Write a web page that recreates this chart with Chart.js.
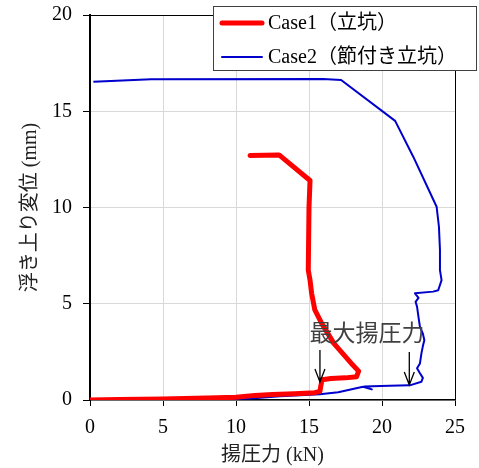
<!DOCTYPE html>
<html>
<head>
<meta charset="utf-8">
<script src="https://cdn.jsdelivr.net/npm/chart.js@4/dist/chart.umd.min.js"></script>
<style>
  html, body { margin: 0; padding: 0; background: #fff; }
  #chart { display: block; }
</style>
</head>
<body>
<canvas id="chart" width="479" height="468"></canvas>
<script>
// 揚圧力 (kN) vs 浮き上り変位 (mm)
const case1Label = "Case1（立坑）";
const case2Label = "Case2（節付き立坑）";

const case1Force = [0, 2, 5, 8, 10, 11.3, 12.5, 14, 15.4, 15.75, 15.8, 15.9, 16.5, 17.5, 18.26, 18.4, 17.9, 16.7, 15.87, 15.4, 15.18, 15.07, 14.95, 15.0, 15.07, 12.95, 10.96];
const case1Disp  = [0, 0.02, 0.05, 0.1, 0.14, 0.24, 0.28, 0.32, 0.38, 0.45, 0.7, 1.05, 1.12, 1.15, 1.21, 1.5, 1.9, 2.94, 3.98, 4.68, 5.54, 6.23, 6.75, 10.0, 11.4, 12.73, 12.7];

const case2Force = [0, 3, 6, 9, 11, 13, 15.75, 17, 18.7, 19.3, 18.8, 20.5, 21.9, 22.7, 22.8, 22.6, 22.4, 22.6, 22.7, 22.8, 22.9, 22.8, 22.6, 22.5, 22.4, 22.3, 22.5, 22.26, 23.5, 23.85, 24.08, 23.97, 23.97, 23.9, 23.74, 22.14, 20.9, 17.2, 15.96, 4.2, 0.23];
const case2Disp  = [-0.02, 0, 0.02, 0.04, 0.08, 0.2, 0.3, 0.4, 0.69, 0.55, 0.7, 0.74, 0.76, 0.95, 1.15, 1.39, 1.65, 1.9, 2.42, 2.8, 3.1, 3.45, 3.8, 4.3, 4.85, 5.1, 5.3, 5.54, 5.63, 5.7, 6.23, 6.75, 7.8, 9.0, 10.04, 12.64, 14.5, 16.62, 16.67, 16.66, 16.53];

// 最大揚圧力 markers
const peakLabel = "最大揚圧力";
const peakLabelAt = [18.97, 3.53];
const peakArrows = [
  { x: 15.75, from: 2.6, to: 0.94 },
  { x: 21.87, from: 2.5, to: 0.78 }
];

const xTitle = "揚圧力 (kN)";
const yTitle = "浮き上り変位 (mm)";

const toPoints = (xs, ys) => xs.map((x, i) => ({ x: x, y: ys[i] }));

const serif = "'Liberation Serif', 'Noto Sans CJK JP', serif";

// plot frame: top and right edges
const framePlugin = {
  id: "frame",
  beforeDatasetsDraw(chart) {
    const { ctx, chartArea: a } = chart;
    ctx.save();
    ctx.strokeStyle = "#000";
    ctx.lineWidth = 1;
    ctx.beginPath();
    ctx.moveTo(a.left, a.top + 0.5);
    ctx.lineTo(a.right + 0.5, a.top + 0.5);
    ctx.lineTo(a.right + 0.5, a.bottom);
    ctx.stroke();
    ctx.restore();
  }
};

// arrows and text for the peak uplift force
const peakPlugin = {
  id: "peak",
  afterDatasetsDraw(chart) {
    const { ctx, scales: { x, y } } = chart;
    ctx.save();
    ctx.strokeStyle = "#000";
    ctx.lineWidth = 1.3;
    peakArrows.forEach(a => {
      const px = x.getPixelForValue(a.x);
      const y0 = y.getPixelForValue(a.from);
      const y1 = y.getPixelForValue(a.to);
      ctx.beginPath();
      ctx.moveTo(px, y0);
      ctx.lineTo(px, y1);
      ctx.moveTo(px - 5, y1 - 13);
      ctx.lineTo(px, y1);
      ctx.lineTo(px + 5, y1 - 13);
      ctx.stroke();
    });
    ctx.fillStyle = "#404040";
    ctx.font = "23px 'Noto Sans CJK JP'";
    ctx.textAlign = "center";
    ctx.textBaseline = "middle";
    ctx.fillText(peakLabel, x.getPixelForValue(peakLabelAt[0]), y.getPixelForValue(peakLabelAt[1]));
    ctx.restore();
  }
};

// legend box sitting over the top right of the plot
const boxLegendPlugin = {
  id: "boxLegend",
  afterDraw(chart) {
    const { ctx } = chart;
    const left = 213, top = 6, w = 264, h = 65;
    ctx.save();
    ctx.fillStyle = "#fff";
    ctx.fillRect(left, top, w, h);
    ctx.strokeStyle = "#404040";
    ctx.lineWidth = 1;
    ctx.strokeRect(left + 0.5, top + 0.5, w - 1, h - 1);
    chart.data.datasets.forEach((ds, i) => {
      const ly = top + 17 + i * 34;
      ctx.strokeStyle = ds.borderColor;
      ctx.lineWidth = ds.borderWidth;
      ctx.lineCap = "round";
      ctx.beginPath();
      ctx.moveTo(left + 9, ly);
      ctx.lineTo(left + 49, ly);
      ctx.stroke();
      ctx.fillStyle = "#000";
      ctx.font = "20px " + serif;
      ctx.textAlign = "left";
      ctx.textBaseline = "middle";
      ctx.fillText(ds.label, left + 55, ly + 1);
    });
    ctx.restore();
  }
};

new Chart(document.getElementById("chart").getContext("2d"), {
  type: "scatter",
  data: {
    datasets: [
      {
        label: case1Label,
        data: toPoints(case1Force, case1Disp),
        showLine: true,
        borderColor: "#ff0000",
        backgroundColor: "#ff0000",
        borderWidth: 5,
        borderCapStyle: "round",
        borderJoinStyle: "round",
        pointRadius: 0,
        tension: 0
      },
      {
        label: case2Label,
        data: toPoints(case2Force, case2Disp),
        showLine: true,
        borderColor: "#0000cc",
        backgroundColor: "#0000cc",
        borderWidth: 2,
        borderJoinStyle: "round",
        pointRadius: 0,
        tension: 0
      }
    ]
  },
  options: {
    responsive: false,
    animation: false,
    devicePixelRatio: 1,
    layout: { padding: { left: 0, right: 24, top: 15, bottom: 0 } },
    plugins: {
      legend: { display: false },
      tooltip: { enabled: false }
    },
    scales: {
      x: {
        type: "linear",
        min: 0,
        max: 25,
        ticks: { stepSize: 5, padding: 10, color: "#000", font: { family: serif, size: 20 } },
        grid: { color: "#d9d9d9", tickColor: "#000", tickLength: 6 },
        border: { color: "#000", width: 1.5 },
        title: { display: true, text: xTitle, color: "#222", padding: { top: 3, bottom: 0 }, font: { family: serif, size: 20 } },
        afterFit(scale) { scale.height = 68; scale.paddingLeft = 0; scale.paddingRight = 0; }
      },
      y: {
        type: "linear",
        min: 0,
        max: 20,
        ticks: { stepSize: 5, padding: 11, color: "#000", font: { family: serif, size: 20 } },
        grid: { color: "#d9d9d9", tickColor: "#000", tickLength: 7 },
        border: { color: "#000", width: 2 },
        title: { display: true, text: yTitle, color: "#222", padding: { top: 19, bottom: 0 }, font: { family: serif, size: 20 } },
        afterFit(scale) { scale.width = 90; scale.paddingTop = 0; scale.paddingBottom = 0; }
      }
    }
  },
  plugins: [framePlugin, peakPlugin, boxLegendPlugin]
});
</script>
</body>
</html>
